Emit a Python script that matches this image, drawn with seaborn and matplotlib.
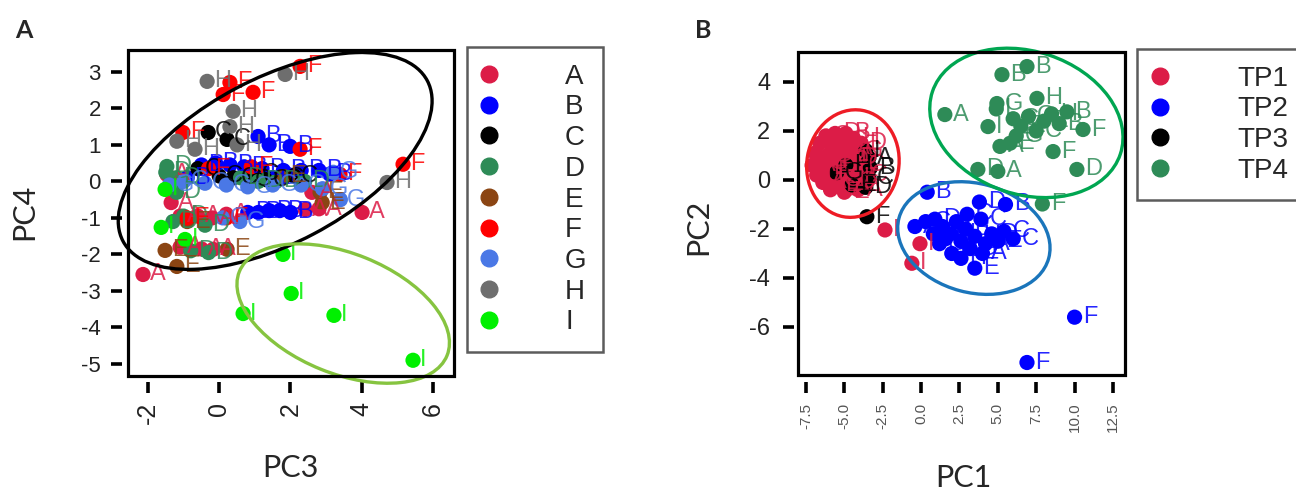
import numpy as np
import pandas as pd
import matplotlib
matplotlib.use("Agg")
import matplotlib.pyplot as plt
import matplotlib.transforms as mtransforms
from matplotlib.patches import Ellipse, Rectangle
from matplotlib.lines import Line2D
import seaborn as sns

sns.set_theme(style="white")
plt.rcParams['font.family'] = ['Liberation Sans', 'DejaVu Sans']

# ---------------- Panel A data (PC3 vs PC4) ----------------
groups_A = ["A", "B", "C", "D", "E", "F", "G", "H", "I"]
colors_A = ["#DC1C47", "#0000FF", "#000000", "#2E8B57", "#8B4513",
            "#FF0000", "#4A78E6", "#6E6E6E", "#00F000"]

A_pc3 = [-2.14, -1.35, -1.47, -1.1, -0.6, -0.2, 0.2, -1.1, -0.5, -0.17, 2.41, 2.6, 4.01, 2.8]
A_pc4 = [-2.55, -0.58, 0.19, -0.95, -0.95, -1.0, -0.9, -1.8, -1.85, -1.86, -0.77, -0.3, -0.85, -0.75]
B_pc3 = [1.09, 1.99, 1.4, -0.5, -0.1, 0.3, 0.7, 1.2, 1.8, 2.3, 2.8, 3.1, 0.8, 1.1, 1.4, 1.7, 2.0, -0.9, 1.5]
B_pc4 = [1.23, 0.96, 1.0, 0.45, 0.5, 0.45, 0.4, 0.35, 0.3, 0.3, 0.3, 0.2, -0.85, -0.85, -0.8, -0.8, -0.85, 0.1, 0.1]
C_pc3 = [-0.31, 0.22, 0.0, 0.4, 0.8, 1.3, 1.7, 2.1, -0.6, 1.0]
C_pc4 = [1.34, 1.15, 0.15, 0.1, 0.05, 0.05, 0.1, 0.15, 0.35, 0.2]
D_pc3 = [-1.47, -1.5, -1.2, -1.0, -1.3, -0.4, 0.6, 1.1, 1.6, 2.4, -0.8, -0.3, -1.2]
D_pc4 = [0.41, 0.25, 0.1, -0.95, -1.1, -1.2, 0.1, 0.0, 0.0, 0.0, -1.9, -1.95, -0.3]
E_pc3 = [-1.52, -1.19, 0.22, 2.89, 2.83, -0.9, 1.8]
E_pc4 = [-1.89, -2.33, -1.86, -0.58, -0.3, -1.1, 0.14]
F_pc3 = [0.30, 0.11, 0.95, 2.27, -1.02, 2.27, 5.16, 3.39, 0.9, 0.2, -0.9, -0.3]
F_pc4 = [2.71, 2.38, 2.44, 3.15, 1.34, 0.88, 0.47, 0.19, 0.4, -1.0, -1.0, 0.35]
G_pc3 = [-1.0, -0.4, 0.2, 0.8, 1.5, 2.3, 2.9, 3.2, 0.58, 0.1, -1.4, 3.4]
G_pc4 = [0.0, -0.05, -0.1, -0.15, -0.1, -0.1, -0.2, 0.25, -1.1, -1.0, -0.1, -0.5]
H_pc3 = [-0.34, 1.85, 0.39, 0.30, -1.19, -0.68, 4.71, 0.5]
H_pc4 = [2.74, 2.93, 1.92, 1.5, 1.1, 0.88, -0.03, 1.0]
I_pc3 = [1.79, 2.02, 0.67, 3.22, 5.44, -1.63, -1.52, -0.96]
I_pc4 = [-2.0, -3.07, -3.62, -3.67, -4.9, -1.26, -0.22, -1.59]

xticks_A = [-2, 0, 2, 4, 6]
yticks_A = [3, 2, 1, 0, -1, -2, -3, -4, -5]

# ---------------- Panel B data (PC1 vs PC2) ----------------
groups_B = ["TP1", "TP2", "TP3", "TP4"]
colors_B = ["#DC1C47", "#0000FF", "#000000", "#2E8B57"]

TP1_pc1 = [-7.1, -6.9, -6.8, -6.6, -6.5, -6.4, -6.2, -6.1, -6.0, -5.9, -5.8, -5.7, -5.6, -5.5,
           -5.4, -5.3, -5.2, -5.1, -5.0, -4.9, -4.8, -4.7, -4.6, -4.5, -4.4, -4.3, -4.2, -4.1,
           -4.0, -3.9, -6.3, -5.6, -4.9, -3.8, -2.35, -0.07, -0.6]
TP1_pc2 = [0.6, 1.1, 0.2, 1.5, 0.7, -0.1, 1.8, 1.0, 0.3, -0.4, 1.4, 0.6, 1.9, -0.2,
           1.1, 0.2, 1.6, 0.8, -0.5, 1.9, 0.4, 1.3, -0.1, 0.9, 1.7, 0.1, 1.2, -0.4,
           0.6, 1.5, 0.5, 0.0, -0.2, 0.2, -2.04, -2.6, -3.4]
TP1_lab = ["A", "C", "D", "E", "G", "A", "C", "D", "E", "G", "A", "C", "D", "E",
           "G", "A", "C", "D", "E", "B", "G", "A", "C", "D", "H", "E", "G", "A",
           "C", "D", "E", "G", "A", "C", "I", "I", "I"]
TP2_pc1 = [0.4, 3.8, 5.5, -0.4, 0.3, 0.9, 1.4, 1.9, 2.3, 2.6, 2.9, 3.2, 3.5, 3.9, 4.2,
           4.6, 5.0, 5.4, 1.2, 2.0, 2.6, 3.5, 4.0, 1.6, 0.8, 10.0, 6.9, 3.0, 6.0]
TP2_pc2 = [-0.5, -0.9, -1.0, -1.9, -1.7, -1.6, -1.9, -2.2, -1.7, -2.5, -2.0, -2.8, -2.3,
           -1.6, -2.6, -2.2, -2.5, -2.1, -2.6, -3.0, -3.2, -3.6, -3.0, -2.4, -2.2, -5.6,
           -7.45, -1.4, -2.4]
TP2_lab = ["B", "D", "B", "A", "C", "D", "G", "H", "I", "A", "B", "G", "H", "C", "A",
           "D", "E", "C", "G", "I", "H", "E", "A", "D", "H", "F", "F", "C", "C"]
TP3_pc1 = [-3.53, -3.4, -3.3, -3.4, -3.6, -4.5, -5.5, -4.9, -3.6]
TP3_pc2 = [-1.5, 0.9, 0.5, 0.1, -0.3, -0.2, 0.3, 0.6, 1.2]
TP3_lab = ["F", "A", "B", "C", "D", "E", "G", "H", "I"]
TP4_pc1 = [1.55, 5.27, 6.9, 4.94, 7.55, 4.36, 10.55, 8.6, 10.15, 3.7, 5.0, 5.14, 9.5,
           7.9, 6.0, 6.5, 7.0, 7.5, 8.0, 8.5, 9.0, 6.2, 5.8, 4.9]
TP4_pc2 = [2.67, 4.3, 4.63, 3.12, 3.33, 2.18, 2.06, 1.16, 0.43, 0.43, 0.35, 1.37, 2.78,
           -0.98, 2.5, 2.2, 2.6, 2.0, 2.4, 2.7, 2.3, 1.8, 1.5, 2.9]
TP4_lab = ["A", "B", "B", "G", "H", "I", "F", "F", "D", "D", "A", "A", "B",
           "F", "C", "E", "G", "C", "E", "H", "B", "G", "E", "I"]

xticks_B = [-7.5, -5.0, -2.5, 0.0, 2.5, 5.0, 7.5, 10.0, 12.5]
yticks_B = [4, 2, 0, -2, -4, -6]

# ---------------- Build frames ----------------
xa = [A_pc3, B_pc3, C_pc3, D_pc3, E_pc3, F_pc3, G_pc3, H_pc3, I_pc3]
ya = [A_pc4, B_pc4, C_pc4, D_pc4, E_pc4, F_pc4, G_pc4, H_pc4, I_pc4]
dfA = pd.concat([pd.DataFrame({"PC3": x, "PC4": y, "group": g})
                 for g, x, y in zip(groups_A, xa, ya)], ignore_index=True)

xb = [TP1_pc1, TP2_pc1, TP3_pc1, TP4_pc1]
yb = [TP1_pc2, TP2_pc2, TP3_pc2, TP4_pc2]
lb = [TP1_lab, TP2_lab, TP3_lab, TP4_lab]
dfB = pd.concat([pd.DataFrame({"PC1": x, "PC2": y, "lab": l, "tp": g})
                 for g, x, y, l in zip(groups_B, xb, yb, lb)], ignore_index=True)

palA = dict(zip(groups_A, colors_A))
palB = dict(zip(groups_B, colors_B))

fig = plt.figure(figsize=(12.96, 4.9), dpi=100)
axA = fig.add_axes([0.0988, 0.2327, 0.2515, 0.6653])
axB = fig.add_axes([0.6157, 0.2347, 0.2523, 0.659])


def style_axes(ax, gap_l, gap_b):
    for s in ax.spines.values():
        s.set_visible(False)
    ax.spines['left'].set_position(('outward', gap_l))
    ax.spines['bottom'].set_position(('outward', gap_b))
    ax.add_patch(Rectangle((0, 0), 1, 1, transform=ax.transAxes, fill=False,
                           lw=2.3, ec="black", clip_on=False, zorder=6))
    ax.grid(False)


def add_ellipse(ax, cx, cy, w_in, h_in, angle, color):
    tr = fig.dpi_scale_trans + mtransforms.ScaledTranslation(cx, cy, ax.transData)
    e = Ellipse((0, 0), w_in, h_in, angle=angle, transform=tr, fill=False,
                ec=color, lw=2.4, clip_on=False, zorder=5)
    ax.add_artist(e)


# ---------------- Panel A ----------------
style_axes(axA, 4.5, 4.5)
sns.scatterplot(data=dfA, x="PC3", y="PC4", hue="group", palette=palA,
                hue_order=groups_A, s=120, edgecolor="none", legend=False,
                ax=axA, zorder=3)
for _, r in dfA.iterrows():
    axA.annotate(r["group"], (r["PC3"], r["PC4"]), xytext=(5, 0),
                 textcoords="offset points", va="center", ha="left",
                 color=palA[r["group"]], alpha=0.85, fontsize=17, zorder=4)
axA.set_xlim(-2.56, 6.59)
axA.set_ylim(-5.33, 3.6)
axA.set_xlabel("")
axA.set_ylabel("")
axA.set_xticks(xticks_A)
axA.set_xticklabels([str(v) for v in xticks_A])
axA.set_yticks(yticks_A)
axA.set_yticklabels([str(v) for v in yticks_A])
axA.tick_params(axis='both', direction='out', length=8, width=2.6,
                color='black', left=True, bottom=True, labelcolor="#222222")
axA.tick_params(axis='x', pad=6, labelsize=18, labelrotation=90)
axA.tick_params(axis='y', pad=7, labelsize=16)
add_ellipse(axA, 1.57, 0.56, 3.44, 1.65, 27.8, "black")
add_ellipse(axA, 3.48, -3.62, 2.24, 1.20, -22, "#86C440")

handlesA = [Line2D([], [], marker='o', ls='', ms=12, mfc=c, mec=c) for c in colors_A]
legA = axA.legend(handlesA, groups_A, loc="upper left",
                  bbox_to_anchor=(467 / 1296, 1 - 47 / 490),
                  bbox_transform=fig.transFigure, fontsize=20, frameon=True,
                  fancybox=False, borderpad=0.6, handlelength=0.38,
                  handletextpad=2.55, labelspacing=0.17, borderaxespad=0)
legA.get_frame().set_edgecolor("#333333")
legA.get_frame().set_linewidth(1.8)

# ---------------- Panel B ----------------
style_axes(axB, 3, 5)
sns.scatterplot(data=dfB, x="PC1", y="PC2", hue="tp", palette=palB,
                hue_order=groups_B, s=120, edgecolor="none", legend=False,
                ax=axB, zorder=3)
for _, r in dfB.iterrows():
    axB.annotate(r["lab"], (r["PC1"], r["PC2"]), xytext=(6, 0),
                 textcoords="offset points", va="center", ha="left",
                 color=palB[r["tp"]], alpha=0.85, fontsize=17, zorder=4)
axB.set_xlim(-8.02, 13.28)
axB.set_ylim(-7.96, 5.22)
axB.set_xlabel("")
axB.set_ylabel("")
axB.set_xticks(xticks_B)
axB.set_xticklabels([f"{v:.1f}" for v in xticks_B])
axB.set_yticks(yticks_B)
axB.set_yticklabels([str(v) for v in yticks_B])
axB.tick_params(axis='both', direction='out', length=8, width=2.6,
                color='black', left=True, bottom=True)
axB.tick_params(axis='x', pad=7, labelsize=11, labelrotation=90, labelcolor="#555555")
axB.tick_params(axis='y', pad=9, labelsize=17, labelcolor="#222222")
add_ellipse(axB, -4.44, 0.67, 1.08, 0.92, 80, "#EE1C25")
add_ellipse(axB, 3.44, -2.37, 1.55, 1.09, -15, "#1A75BB")
add_ellipse(axB, 6.86, 2.33, 1.98, 1.43, -18.4, "#00A651")

handlesB = [Line2D([], [], marker='o', ls='', ms=12, mfc=c, mec=c) for c in colors_B]
legB = axB.legend(handlesB, groups_B, loc="upper left",
                  bbox_to_anchor=(1137 / 1296, 1 - 49 / 490),
                  bbox_transform=fig.transFigure, fontsize=20, frameon=True,
                  fancybox=False, borderpad=0.6, handlelength=0.45,
                  handletextpad=2.55, labelspacing=0.17, borderaxespad=0)
legB.get_frame().set_edgecolor("#333333")
legB.get_frame().set_linewidth(1.8)

# ---------------- Figure texts ----------------
fig.text(24 / 1296, 1 - 31 / 490, "A", fontsize=18, fontweight="bold",
         family=["Lato", "DejaVu Sans"], ha="center", va="center")
fig.text(703 / 1296, 1 - 31 / 490, "B", fontsize=18, fontweight="bold",
         family=["Lato", "DejaVu Sans"], ha="center", va="center")
fig.text(290 / 1296, 1 - 468 / 490, "PC3", fontsize=22,
         family=["Lato", "DejaVu Sans"], ha="center", va="center")
fig.text(24 / 1296, 1 - 212 / 490, "PC4", fontsize=22, rotation=90,
         family=["Lato", "DejaVu Sans"], ha="center", va="center")
fig.text(963 / 1296, 1 - 478 / 490, "PC1", fontsize=22,
         family=["Lato", "DejaVu Sans"], ha="center", va="center")
fig.text(698 / 1296, 1 - 227 / 490, "PC2", fontsize=22, rotation=90,
         family=["Lato", "DejaVu Sans"], ha="center", va="center")

fig.savefig("out.png", dpi=100, facecolor="white")
